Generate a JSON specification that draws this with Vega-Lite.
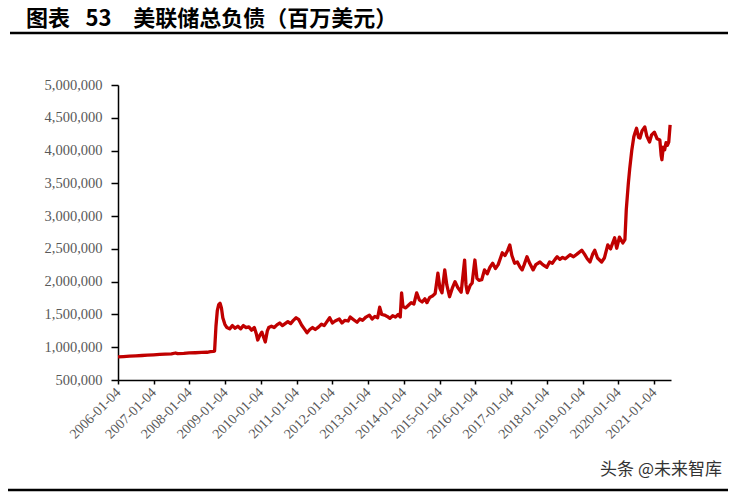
{
  "$schema": "https://vega.github.io/schema/vega-lite/v6.json",
  "width": 553,
  "height": 295,
  "autosize": "none",
  "padding": {"left": 118, "top": 85, "right": 67, "bottom": 117},
  "background": "white",
  "config": {"view": {"stroke": null}},
  "layer": [
    {
      "data": {"values": [
        {"date": "2006-01-04", "value": 852000},
        {"date": "2006-03-01", "value": 858000},
        {"date": "2006-05-03", "value": 864000},
        {"date": "2006-07-05", "value": 868000},
        {"date": "2006-09-06", "value": 874000},
        {"date": "2006-11-01", "value": 879000},
        {"date": "2007-01-03", "value": 884000},
        {"date": "2007-03-07", "value": 890000},
        {"date": "2007-05-02", "value": 894000},
        {"date": "2007-07-04", "value": 899000},
        {"date": "2007-08-15", "value": 912000},
        {"date": "2007-09-05", "value": 903000},
        {"date": "2007-11-07", "value": 907000},
        {"date": "2008-01-02", "value": 913000},
        {"date": "2008-03-05", "value": 916000},
        {"date": "2008-05-07", "value": 920000},
        {"date": "2008-07-02", "value": 923000},
        {"date": "2008-08-06", "value": 932000},
        {"date": "2008-09-03", "value": 937000},
        {"date": "2008-09-17", "value": 942000},
        {"date": "2008-10-01", "value": 1320000},
        {"date": "2008-10-15", "value": 1560000},
        {"date": "2008-10-29", "value": 1650000},
        {"date": "2008-11-12", "value": 1670000},
        {"date": "2008-11-26", "value": 1600000},
        {"date": "2008-12-10", "value": 1450000},
        {"date": "2008-12-31", "value": 1350000},
        {"date": "2009-01-21", "value": 1300000},
        {"date": "2009-02-18", "value": 1280000},
        {"date": "2009-03-18", "value": 1330000},
        {"date": "2009-04-15", "value": 1290000},
        {"date": "2009-05-13", "value": 1320000},
        {"date": "2009-06-10", "value": 1280000},
        {"date": "2009-07-08", "value": 1330000},
        {"date": "2009-08-05", "value": 1300000},
        {"date": "2009-09-02", "value": 1310000},
        {"date": "2009-09-30", "value": 1260000},
        {"date": "2009-10-28", "value": 1300000},
        {"date": "2009-11-18", "value": 1200000},
        {"date": "2009-12-02", "value": 1110000},
        {"date": "2009-12-23", "value": 1180000},
        {"date": "2010-01-13", "value": 1230000},
        {"date": "2010-02-03", "value": 1140000},
        {"date": "2010-02-17", "value": 1080000},
        {"date": "2010-03-10", "value": 1250000},
        {"date": "2010-03-24", "value": 1300000},
        {"date": "2010-04-21", "value": 1320000},
        {"date": "2010-05-19", "value": 1300000},
        {"date": "2010-06-16", "value": 1340000},
        {"date": "2010-07-14", "value": 1370000},
        {"date": "2010-08-11", "value": 1330000},
        {"date": "2010-09-08", "value": 1360000},
        {"date": "2010-10-06", "value": 1390000},
        {"date": "2010-11-03", "value": 1360000},
        {"date": "2010-12-01", "value": 1410000},
        {"date": "2010-12-29", "value": 1450000},
        {"date": "2011-01-26", "value": 1420000},
        {"date": "2011-02-23", "value": 1340000},
        {"date": "2011-03-23", "value": 1280000},
        {"date": "2011-04-20", "value": 1220000},
        {"date": "2011-05-18", "value": 1270000},
        {"date": "2011-06-15", "value": 1300000},
        {"date": "2011-07-13", "value": 1270000},
        {"date": "2011-08-17", "value": 1310000},
        {"date": "2011-09-14", "value": 1350000},
        {"date": "2011-10-12", "value": 1330000},
        {"date": "2011-11-09", "value": 1390000},
        {"date": "2011-12-07", "value": 1450000},
        {"date": "2012-01-04", "value": 1370000},
        {"date": "2012-02-01", "value": 1400000},
        {"date": "2012-03-14", "value": 1430000},
        {"date": "2012-04-11", "value": 1370000},
        {"date": "2012-05-09", "value": 1410000},
        {"date": "2012-06-13", "value": 1400000},
        {"date": "2012-07-04", "value": 1460000},
        {"date": "2012-08-08", "value": 1420000},
        {"date": "2012-09-12", "value": 1380000},
        {"date": "2012-10-10", "value": 1430000},
        {"date": "2012-11-07", "value": 1410000},
        {"date": "2012-12-12", "value": 1460000},
        {"date": "2013-01-16", "value": 1490000},
        {"date": "2013-02-13", "value": 1430000},
        {"date": "2013-03-13", "value": 1470000},
        {"date": "2013-04-10", "value": 1450000},
        {"date": "2013-05-01", "value": 1610000},
        {"date": "2013-05-22", "value": 1500000},
        {"date": "2013-06-19", "value": 1490000},
        {"date": "2013-07-17", "value": 1470000},
        {"date": "2013-08-14", "value": 1440000},
        {"date": "2013-09-11", "value": 1480000},
        {"date": "2013-10-09", "value": 1460000},
        {"date": "2013-11-06", "value": 1500000},
        {"date": "2013-11-27", "value": 1460000},
        {"date": "2013-12-11", "value": 1830000},
        {"date": "2013-12-25", "value": 1620000},
        {"date": "2014-01-22", "value": 1600000},
        {"date": "2014-02-19", "value": 1640000},
        {"date": "2014-03-19", "value": 1680000},
        {"date": "2014-04-16", "value": 1660000},
        {"date": "2014-05-14", "value": 1830000},
        {"date": "2014-06-11", "value": 1720000},
        {"date": "2014-07-09", "value": 1690000},
        {"date": "2014-08-06", "value": 1740000},
        {"date": "2014-08-27", "value": 1680000},
        {"date": "2014-09-24", "value": 1760000},
        {"date": "2014-10-22", "value": 1780000},
        {"date": "2014-11-19", "value": 1820000},
        {"date": "2014-12-17", "value": 2130000},
        {"date": "2015-01-07", "value": 1900000},
        {"date": "2015-01-28", "value": 1830000},
        {"date": "2015-02-25", "value": 2180000},
        {"date": "2015-03-18", "value": 1950000},
        {"date": "2015-04-15", "value": 1770000},
        {"date": "2015-05-13", "value": 1900000},
        {"date": "2015-06-10", "value": 2000000},
        {"date": "2015-07-08", "value": 1910000},
        {"date": "2015-08-12", "value": 1840000},
        {"date": "2015-09-16", "value": 2330000},
        {"date": "2015-09-30", "value": 1950000},
        {"date": "2015-10-14", "value": 1830000},
        {"date": "2015-11-11", "value": 1940000},
        {"date": "2015-12-02", "value": 1980000},
        {"date": "2015-12-30", "value": 2330000},
        {"date": "2016-01-20", "value": 2050000},
        {"date": "2016-02-10", "value": 2020000},
        {"date": "2016-03-09", "value": 2030000},
        {"date": "2016-04-06", "value": 2180000},
        {"date": "2016-05-04", "value": 2120000},
        {"date": "2016-06-01", "value": 2220000},
        {"date": "2016-06-29", "value": 2280000},
        {"date": "2016-07-27", "value": 2200000},
        {"date": "2016-08-24", "value": 2260000},
        {"date": "2016-09-21", "value": 2380000},
        {"date": "2016-10-05", "value": 2440000},
        {"date": "2016-11-02", "value": 2400000},
        {"date": "2016-11-30", "value": 2480000},
        {"date": "2016-12-21", "value": 2560000},
        {"date": "2017-01-11", "value": 2400000},
        {"date": "2017-02-08", "value": 2280000},
        {"date": "2017-03-08", "value": 2300000},
        {"date": "2017-04-05", "value": 2220000},
        {"date": "2017-04-26", "value": 2180000},
        {"date": "2017-05-17", "value": 2260000},
        {"date": "2017-06-14", "value": 2380000},
        {"date": "2017-07-12", "value": 2280000},
        {"date": "2017-08-16", "value": 2180000},
        {"date": "2017-09-13", "value": 2260000},
        {"date": "2017-10-25", "value": 2300000},
        {"date": "2017-11-22", "value": 2260000},
        {"date": "2018-01-03", "value": 2220000},
        {"date": "2018-01-31", "value": 2300000},
        {"date": "2018-02-28", "value": 2280000},
        {"date": "2018-03-28", "value": 2340000},
        {"date": "2018-04-18", "value": 2380000},
        {"date": "2018-05-16", "value": 2340000},
        {"date": "2018-06-13", "value": 2370000},
        {"date": "2018-07-11", "value": 2350000},
        {"date": "2018-08-29", "value": 2410000},
        {"date": "2018-10-03", "value": 2380000},
        {"date": "2018-11-07", "value": 2420000},
        {"date": "2018-12-26", "value": 2480000},
        {"date": "2019-01-23", "value": 2420000},
        {"date": "2019-02-20", "value": 2350000},
        {"date": "2019-03-20", "value": 2300000},
        {"date": "2019-04-17", "value": 2420000},
        {"date": "2019-05-08", "value": 2480000},
        {"date": "2019-06-05", "value": 2360000},
        {"date": "2019-07-17", "value": 2300000},
        {"date": "2019-08-14", "value": 2360000},
        {"date": "2019-09-18", "value": 2560000},
        {"date": "2019-10-16", "value": 2500000},
        {"date": "2019-11-27", "value": 2670000},
        {"date": "2019-12-18", "value": 2510000},
        {"date": "2020-01-15", "value": 2680000},
        {"date": "2020-02-19", "value": 2590000},
        {"date": "2020-03-11", "value": 2640000},
        {"date": "2020-03-25", "value": 3100000},
        {"date": "2020-04-15", "value": 3500000},
        {"date": "2020-04-29", "value": 3720000},
        {"date": "2020-05-20", "value": 4000000},
        {"date": "2020-06-10", "value": 4210000},
        {"date": "2020-06-24", "value": 4280000},
        {"date": "2020-07-08", "value": 4340000},
        {"date": "2020-07-29", "value": 4200000},
        {"date": "2020-08-12", "value": 4190000},
        {"date": "2020-09-02", "value": 4300000},
        {"date": "2020-09-30", "value": 4360000},
        {"date": "2020-10-21", "value": 4220000},
        {"date": "2020-11-18", "value": 4130000},
        {"date": "2020-12-09", "value": 4240000},
        {"date": "2021-01-06", "value": 4280000},
        {"date": "2021-02-03", "value": 4180000},
        {"date": "2021-03-03", "value": 4160000},
        {"date": "2021-03-17", "value": 3920000},
        {"date": "2021-03-24", "value": 3860000},
        {"date": "2021-04-07", "value": 4050000},
        {"date": "2021-04-21", "value": 4010000},
        {"date": "2021-05-05", "value": 4120000},
        {"date": "2021-05-19", "value": 4080000},
        {"date": "2021-06-02", "value": 4130000},
        {"date": "2021-06-16", "value": 4390000}
      ]},
      "mark": {"type": "line", "color": "#C00000", "strokeWidth": 3.3, "strokeJoin": "round"},
      "encoding": {
        "x": {
          "field": "date",
          "type": "temporal",
          "scale": {
            "type": "utc",
            "domain": [
              {"year": 2006, "month": 1, "date": 4, "utc": true},
              {"year": 2021, "month": 6, "date": 25, "utc": true}
            ]
          },
          "axis": {
            "title": null,
            "grid": false,
            "values": [
              {"year": 2006, "month": 1, "date": 4, "utc": true},
              {"year": 2007, "month": 1, "date": 4, "utc": true},
              {"year": 2008, "month": 1, "date": 4, "utc": true},
              {"year": 2009, "month": 1, "date": 4, "utc": true},
              {"year": 2010, "month": 1, "date": 4, "utc": true},
              {"year": 2011, "month": 1, "date": 4, "utc": true},
              {"year": 2012, "month": 1, "date": 4, "utc": true},
              {"year": 2013, "month": 1, "date": 4, "utc": true},
              {"year": 2014, "month": 1, "date": 4, "utc": true},
              {"year": 2015, "month": 1, "date": 4, "utc": true},
              {"year": 2016, "month": 1, "date": 4, "utc": true},
              {"year": 2017, "month": 1, "date": 4, "utc": true},
              {"year": 2018, "month": 1, "date": 4, "utc": true},
              {"year": 2019, "month": 1, "date": 4, "utc": true},
              {"year": 2020, "month": 1, "date": 4, "utc": true},
              {"year": 2021, "month": 1, "date": 4, "utc": true}
            ],
            "format": "%Y-%m-%d",
            "labelAngle": -45,
            "labelAlign": "right",
            "labelBaseline": "middle",
            "labelFont": "Liberation Serif",
            "labelFontSize": 14,
            "labelColor": "#595959",
            "labelPadding": 6,
            "labelOverlap": false,
            "labelFlush": false,
            "domainColor": "#000000",
            "domainWidth": 1.5,
            "tickColor": "#000000",
            "tickWidth": 1.5,
            "tickSize": 4
          }
        },
        "y": {
          "field": "value",
          "type": "quantitative",
          "scale": {"domain": [500000, 5000000], "nice": false, "zero": false},
          "axis": {
            "title": null,
            "grid": false,
            "values": [500000, 1000000, 1500000, 2000000, 2500000, 3000000, 3500000, 4000000, 4500000, 5000000],
            "format": ",.0f",
            "labelFont": "Liberation Serif",
            "labelFontSize": 14.5,
            "labelColor": "#595959",
            "labelPadding": 9,
            "labelOverlap": false,
            "labelFlush": false,
            "domainColor": "#000000",
            "domainWidth": 1.5,
            "tickColor": "#000000",
            "tickWidth": 1.5,
            "tickSize": 7
          }
        }
      }
    },
    {
      "data": {"values": [{}]},
      "mark": {"type": "text", "text": "图表\u2002\u200953　美联储总负债（百万美元）", "align": "left", "baseline": "alphabetic", "font": "Noto Sans CJK SC", "fontSize": 22, "fontWeight": "bold", "color": "#000000"},
      "encoding": {"x": {"value": -92}, "y": {"value": -59}}
    },
    {
      "data": {"values": [{}]},
      "mark": {"type": "rule", "strokeWidth": 2.5, "color": "#000000"},
      "encoding": {"x": {"value": -108}, "x2": {"value": 610}, "y": {"value": -52}}
    },
    {
      "data": {"values": [{}]},
      "mark": {"type": "rule", "strokeWidth": 2.5, "color": "#000000"},
      "encoding": {"x": {"value": -110}, "x2": {"value": 610}, "y": {"value": 405}}
    },
    {
      "data": {"values": [{}]},
      "mark": {"type": "text", "text": "头条 @未来智库", "align": "right", "baseline": "middle", "font": "Noto Sans CJK SC", "fontSize": 17, "color": "#333333"},
      "encoding": {"x": {"value": 604}, "y": {"value": 385}}
    }
  ]
}
